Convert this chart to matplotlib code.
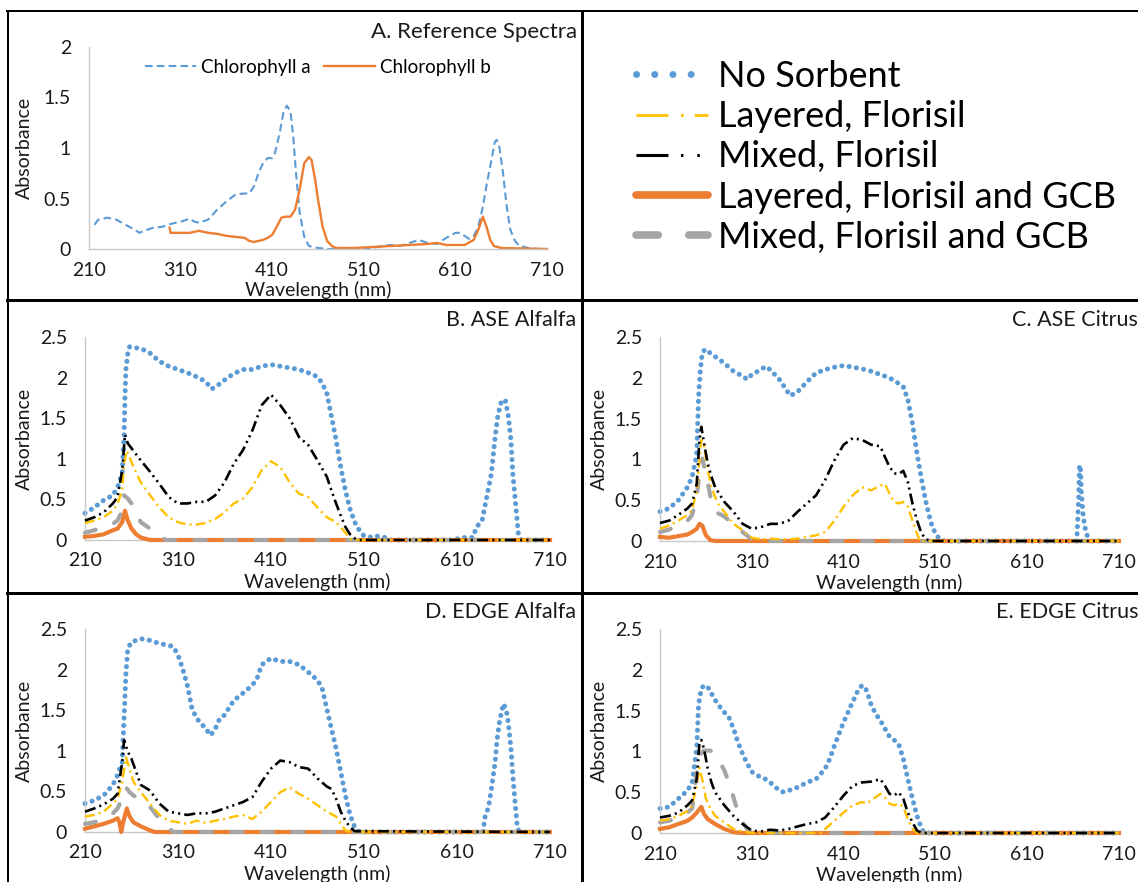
import matplotlib
matplotlib.use("Agg")
import matplotlib.pyplot as plt
from matplotlib.lines import Line2D

plt.rcParams['font.family'] = ['Lato', 'DejaVu Sans']
plt.rcParams['lines.scale_dashes'] = False

# ---------------- data ----------------
# A. reference spectra
chl_a_wl = [216, 220, 230, 240, 250, 260, 265, 270, 280, 290, 300, 310, 320, 325, 330,
            340, 350, 360, 370, 380, 385, 390, 395, 400, 405, 410, 413, 418, 422, 426,
            430, 433, 436, 440, 445, 450, 460, 470, 500, 520, 530, 540, 550, 560, 570,
            580, 590, 600, 610, 615, 620, 625, 630, 635, 640, 645, 650, 653, 655, 658,
            662, 666, 670, 675, 680, 690, 700, 710]
chl_a = [0.24, 0.29, 0.31, 0.29, 0.24, 0.19, 0.16, 0.18, 0.21, 0.22, 0.25, 0.27, 0.30, 0.27, 0.26,
         0.29, 0.39, 0.47, 0.54, 0.55, 0.55, 0.62, 0.75, 0.85, 0.90, 0.90, 0.95, 1.14, 1.34, 1.42,
         1.36, 1.11, 0.75, 0.36, 0.12, 0.03, 0.01, 0, 0, 0.01, 0.03, 0.04, 0.03, 0.06, 0.09,
         0.06, 0.05, 0.11, 0.16, 0.16, 0.13, 0.10, 0.13, 0.22, 0.42, 0.68, 0.91, 1.06, 1.08, 1.01,
         0.75, 0.42, 0.19, 0.08, 0.03, 0.01, 0, 0]
chl_b_wl = [298, 299, 310, 320, 330, 340, 350, 360, 370, 380, 385, 390, 400, 405, 410,
            415, 420, 425, 430, 435, 440, 445, 450, 453, 457, 460, 465, 470, 475, 480,
            500, 520, 540, 560, 580, 590, 600, 620, 630, 635, 640, 644, 648, 652, 660, 710]
chl_b = [0.21, 0.16, 0.16, 0.16, 0.18, 0.16, 0.15, 0.13, 0.12, 0.11, 0.08, 0.07, 0.09, 0.11, 0.14,
         0.22, 0.31, 0.32, 0.32, 0.39, 0.59, 0.85, 0.91, 0.88, 0.68, 0.49, 0.22, 0.08, 0.03, 0.01,
         0.01, 0.02, 0.03, 0.04, 0.05, 0.06, 0.04, 0.04, 0.09, 0.19, 0.32, 0.22, 0.09, 0.03, 0.01, 0]

# B. ASE Alfalfa
b_none_wl = [210, 220, 230, 240, 245, 250, 252, 253, 254, 256, 258, 262, 270, 280, 290, 300,
             310, 320, 330, 340, 346, 350, 360, 370, 380, 390, 400, 410, 420, 430, 440, 450,
             460, 465, 470, 475, 480, 485, 490, 495, 500, 505, 510, 520, 525, 530, 540, 608,
             613, 620, 627, 631, 637, 642, 647, 651, 654, 658, 662, 665, 668, 670, 673, 676,
             679, 710]
b_none = [0.33, 0.40, 0.49, 0.55, 0.65, 0.82, 1.27, 1.77, 2.10, 2.30, 2.38, 2.37, 2.36, 2.30, 2.20, 2.14,
          2.10, 2.06, 2.01, 1.95, 1.86, 1.88, 1.97, 2.05, 2.10, 2.10, 2.14, 2.16, 2.14, 2.12, 2.10, 2.06,
          2.01, 1.93, 1.81, 1.52, 1.23, 0.90, 0.61, 0.38, 0.22, 0.12, 0.05, 0.03, 0.05, 0.04, 0, 0,
          0.03, 0.03, 0.03, 0.16, 0.24, 0.53, 0.82, 1.27, 1.54, 1.72, 1.72, 1.54, 1.23, 0.82, 0.45, 0.07,
          0, 0]
b_lay_wl = [210, 220, 230, 240, 245, 250, 252, 255, 258, 262, 270, 280, 290, 300, 310, 320, 330, 340,
            350, 360, 370, 380, 390, 400, 410, 420, 430, 440, 450, 460, 470, 480, 490, 495, 500, 710]
b_lay = [0.21, 0.24, 0.28, 0.36, 0.45, 0.61, 0.94, 1.10, 1.02, 0.90, 0.71, 0.55, 0.40, 0.28, 0.22, 0.19, 0.19, 0.21,
         0.26, 0.34, 0.45, 0.51, 0.65, 0.86, 0.97, 0.90, 0.71, 0.57, 0.53, 0.40, 0.28, 0.22, 0.09, 0.01, 0, 0]
b_mix_wl = [210, 220, 230, 240, 245, 250, 253, 256, 260, 270, 280, 290, 300, 310, 320, 330, 340, 350, 360,
            370, 380, 390, 400, 410, 420, 430, 440, 450, 460, 470, 475, 480, 485, 490, 495, 500, 505, 710]
b_mix = [0.24, 0.28, 0.34, 0.45, 0.53, 0.86, 1.30, 1.19, 1.13, 0.98, 0.84, 0.69, 0.53, 0.45, 0.45, 0.47, 0.47, 0.55, 0.71,
         0.94, 1.11, 1.35, 1.66, 1.79, 1.66, 1.50, 1.27, 1.17, 0.98, 0.78, 0.61, 0.45, 0.30, 0.16, 0.07, 0.02, 0, 0]
b_lgcb_wl = [210, 220, 230, 240, 245, 250, 253, 256, 260, 265, 270, 280, 710]
b_lgcb = [0.04, 0.05, 0.07, 0.12, 0.14, 0.22, 0.36, 0.24, 0.14, 0.07, 0.03, 0, 0]
b_mgcb_wl = [210, 220, 230, 240, 245, 250, 252, 256, 260, 265, 270, 280, 290, 297, 710]
b_mgcb = [0.09, 0.12, 0.16, 0.20, 0.24, 0.36, 0.55, 0.51, 0.45, 0.32, 0.22, 0.14, 0.05, 0, 0]

# C. ASE Citrus
c_none_wl = [210, 220, 230, 240, 245, 250, 252, 254, 256, 259, 270, 280, 290, 300, 305,
             310, 320, 325, 330, 340, 352, 360, 370, 380, 390, 400, 410, 420, 430, 440,
             450, 460, 470, 475, 480, 485, 490, 495, 500, 505, 510, 515, 520, 664, 666,
             667, 668, 669, 671, 674, 677, 680, 710]
c_none = [0.36, 0.40, 0.50, 0.66, 0.79, 1.05, 1.77, 2.10, 2.30, 2.35, 2.26, 2.18, 2.08, 2.02, 1.98,
          2.04, 2.10, 2.14, 2.10, 1.98, 1.78, 1.83, 1.95, 2.06, 2.10, 2.13, 2.15, 2.13, 2.11, 2.08,
          2.04, 2.00, 1.93, 1.89, 1.73, 1.44, 1.07, 0.75, 0.46, 0.23, 0.09, 0.02, 0, 0, 0.5,
          0.93, 0.9, 0.6, 0.3, 0.1, 0.03, 0, 0]
c_lay_wl = [210, 220, 230, 240, 245, 250, 255, 258, 262, 266, 270, 275, 280, 290, 300, 310, 320, 330, 340, 350,
            360, 370, 380, 390, 400, 410, 420, 430, 440, 450, 455, 460, 465, 470, 475, 480, 485, 490, 493, 710]
c_lay = [0.15, 0.19, 0.25, 0.32, 0.38, 0.62, 1.24, 1.16, 0.87, 0.66, 0.54, 0.42, 0.36, 0.21, 0.13, 0.04, 0.02, 0.03, 0.02, 0.02,
         0.03, 0.05, 0.07, 0.11, 0.25, 0.42, 0.56, 0.66, 0.62, 0.68, 0.70, 0.58, 0.48, 0.46, 0.48, 0.42, 0.25, 0.09, 0, 0]
c_mix_wl = [210, 220, 230, 240, 245, 250, 253, 255, 258, 262, 266, 270, 280, 290, 300, 310, 320, 330, 340, 350, 360,
            370, 380, 390, 400, 410, 420, 430, 440, 450, 455, 460, 465, 470, 475, 480, 485, 490, 495, 500, 505, 710]
c_mix = [0.22, 0.25, 0.32, 0.40, 0.46, 0.70, 1.24, 1.40, 1.20, 0.95, 0.79, 0.66, 0.48, 0.36, 0.21, 0.15, 0.17, 0.21, 0.21, 0.25, 0.36,
         0.46, 0.56, 0.75, 0.99, 1.18, 1.26, 1.24, 1.18, 1.16, 1.03, 0.91, 0.83, 0.82, 0.86, 0.72, 0.46, 0.25, 0.09, 0.02, 0, 0]
c_lgcb_wl = [210, 220, 230, 240, 245, 250, 253, 256, 260, 265, 270, 710]
c_lgcb = [0.05, 0.04, 0.06, 0.08, 0.11, 0.15, 0.21, 0.19, 0.07, 0.01, 0, 0]
c_mgcb_wl = [210, 220, 230, 240, 245, 250, 253, 256, 260, 265, 270, 280, 290, 300, 310, 320, 445, 451, 457, 710]
c_mgcb = [0.11, 0.14, 0.19, 0.25, 0.32, 0.54, 0.83, 1.01, 0.83, 0.54, 0.36, 0.30, 0.21, 0.11, 0.02, 0, 0, 0.03, 0, 0]

# D. EDGE Alfalfa
d_none_wl = [210, 220, 230, 240, 245, 250, 252, 254, 256, 260, 270, 280, 290, 300, 305,
             310, 315, 320, 325, 330, 340, 345, 350, 355, 360, 370, 380, 390, 395, 400,
             410, 420, 430, 440, 450, 460, 465, 470, 475, 480, 485, 490, 495, 500, 505,
             638, 640, 644, 647, 651, 653, 656, 660, 663, 665, 668, 670, 673, 675, 678, 710]
d_none = [0.35, 0.39, 0.45, 0.58, 0.70, 0.86, 1.40, 1.95, 2.26, 2.34, 2.38, 2.36, 2.32, 2.30, 2.28,
          2.18, 2.01, 1.81, 1.52, 1.40, 1.27, 1.19, 1.27, 1.40, 1.44, 1.62, 1.71, 1.81, 1.89, 2.06,
          2.14, 2.10, 2.10, 2.06, 1.97, 1.87, 1.77, 1.52, 1.27, 1.03, 0.74, 0.45, 0.21, 0.06, 0,
          0, 0.18, 0.31, 0.53, 0.86, 1.13, 1.38, 1.58, 1.50, 1.36, 1.03, 0.70, 0.29, 0.04, 0, 0]
d_lay_wl = [210, 220, 230, 240, 245, 250, 254, 258, 262, 270, 280, 290, 300, 310, 320, 330, 340, 350,
            360, 370, 380, 390, 400, 410, 420, 430, 440, 450, 460, 470, 480, 485, 490, 495, 710]
d_lay = [0.19, 0.21, 0.25, 0.35, 0.41, 0.62, 0.92, 0.78, 0.62, 0.49, 0.35, 0.21, 0.14, 0.12, 0.10, 0.14, 0.11, 0.14,
         0.16, 0.19, 0.21, 0.16, 0.25, 0.37, 0.49, 0.55, 0.47, 0.41, 0.33, 0.25, 0.19, 0.10, 0.02, 0, 0]
d_mix_wl = [210, 220, 230, 240, 245, 250, 252, 256, 260, 265, 270, 280, 290, 300, 310, 320, 330, 340, 350,
            360, 370, 380, 390, 400, 410, 420, 430, 440, 450, 460, 470, 475, 480, 485, 490, 495, 500, 710]
d_mix = [0.25, 0.29, 0.34, 0.41, 0.47, 0.86, 1.13, 0.99, 0.90, 0.74, 0.58, 0.51, 0.35, 0.25, 0.23, 0.21, 0.23, 0.23, 0.25,
         0.29, 0.33, 0.37, 0.43, 0.62, 0.78, 0.88, 0.86, 0.80, 0.78, 0.66, 0.56, 0.53, 0.41, 0.25, 0.14, 0.06, 0.01, 0]
d_lgcb_wl = [210, 220, 230, 240, 245, 247, 249, 251, 255, 258, 262, 270, 280, 285, 710]
d_lgcb = [0.04, 0.07, 0.10, 0.14, 0.17, 0.12, 0.0, 0.12, 0.29, 0.19, 0.12, 0.07, 0.02, 0, 0]
d_mgcb_wl = [210, 220, 230, 240, 245, 250, 254, 258, 262, 270, 280, 290, 295, 300, 305, 710]
d_mgcb = [0.10, 0.12, 0.16, 0.23, 0.29, 0.41, 0.55, 0.49, 0.45, 0.39, 0.31, 0.16, 0.10, 0.05, 0, 0]

# E. EDGE Citrus
e_none_wl = [210, 220, 230, 240, 245, 250, 252, 255, 258, 262, 266, 270, 275, 280, 285,
             290, 295, 300, 305, 310, 320, 325, 330, 340, 345, 350, 360, 370, 380, 390,
             395, 400, 410, 420, 425, 430, 435, 440, 445, 450, 455, 460, 465, 470, 475,
             480, 485, 490, 495, 498, 710]
e_none = [0.30, 0.32, 0.42, 0.52, 0.62, 1.03, 1.57, 1.77, 1.81, 1.79, 1.71, 1.63, 1.55, 1.48, 1.42,
          1.28, 1.11, 0.97, 0.85, 0.75, 0.68, 0.66, 0.62, 0.52, 0.50, 0.52, 0.56, 0.62, 0.66, 0.79,
          0.91, 1.07, 1.36, 1.61, 1.73, 1.81, 1.75, 1.57, 1.46, 1.38, 1.28, 1.18, 1.14, 1.09, 0.91,
          0.66, 0.42, 0.21, 0.05, 0, 0]
e_lay_wl = [210, 220, 230, 240, 245, 250, 253, 256, 260, 265, 270, 280, 290, 300, 310, 385, 390, 400,
            410, 420, 425, 430, 435, 440, 445, 450, 455, 460, 465, 470, 475, 480, 485, 490, 710]
e_lay = [0.15, 0.17, 0.21, 0.27, 0.34, 0.58, 0.80, 0.66, 0.42, 0.30, 0.21, 0.13, 0.05, 0.02, 0, 0, 0.05, 0.15,
         0.25, 0.34, 0.36, 0.38, 0.36, 0.40, 0.44, 0.48, 0.44, 0.36, 0.34, 0.36, 0.32, 0.17, 0.05, 0, 0]
e_mix_wl = [210, 220, 230, 240, 245, 250, 253, 255, 258, 262, 266, 270, 280, 290, 300, 310, 320, 330, 340, 350,
            360, 370, 380, 390, 400, 410, 420, 430, 440, 450, 455, 460, 465, 470, 475, 480, 485, 490, 495, 710]
e_mix = [0.19, 0.21, 0.25, 0.34, 0.40, 0.66, 1.11, 1.14, 1.03, 0.79, 0.62, 0.50, 0.34, 0.21, 0.11, 0.03, 0.02, 0.04, 0.03, 0.05,
         0.08, 0.11, 0.13, 0.19, 0.32, 0.46, 0.58, 0.62, 0.63, 0.66, 0.58, 0.48, 0.46, 0.50, 0.42, 0.25, 0.13, 0.03, 0, 0]
e_lgcb_wl = [210, 220, 230, 240, 245, 250, 255, 258, 262, 270, 280, 290, 300, 710]
e_lgcb = [0.05, 0.07, 0.11, 0.15, 0.19, 0.25, 0.32, 0.23, 0.17, 0.11, 0.05, 0.01, 0, 0]
e_mgcb_wl = [210, 220, 230, 240, 245, 250, 253, 258, 265, 270, 275, 280, 285, 290, 295, 300, 305, 310, 710]
e_mgcb = [0.13, 0.15, 0.19, 0.25, 0.30, 0.75, 0.95, 1.01, 1.01, 0.95, 0.87, 0.77, 0.62, 0.44, 0.25, 0.13, 0.05, 0, 0]

series_names = ['No Sorbent', 'Layered, Florisil', 'Mixed, Florisil',
                'Layered, Florisil and GCB', 'Mixed, Florisil and GCB']
x_ticks = [210, 310, 410, 510, 610, 710]
y_ticks_a = [0, 0.5, 1, 1.5, 2]
y_ticks = [0, 0.5, 1, 1.5, 2, 2.5]

# ---------------- styles ----------------
blue = '#5B9BD5'
orange = '#ED7D31'
gray = '#A5A5A5'
yellow = '#FFC000'
txt = '#1a1a1a'
styles = {
    'No Sorbent': dict(color=blue, lw=3.6, ls=(0, (0.1, 5.2)), dash_capstyle='round', zorder=2),
    'Layered, Florisil': dict(color=yellow, lw=1.7, ls=(0, (7, 3, 1.5, 3)), zorder=5),
    'Mixed, Florisil': dict(color='black', lw=1.9, ls=(0, (8, 3, 1.5, 3, 1.5, 3)), zorder=6),
    'Layered, Florisil and GCB': dict(color=orange, lw=3.0, ls='-', zorder=3),
    'Mixed, Florisil and GCB': dict(color=gray, lw=3.0, ls=(0, (8, 14)), dash_capstyle='round', zorder=4),
}

W, H = 1138, 882
fig = plt.figure(figsize=(W / 100, H / 100), dpi=100)


def px_rect(x0, y0, x1, y1):
    return [x0 / W, 1 - y1 / H, (x1 - x0) / W, (y1 - y0) / H]


def style_axes(ax, ymax, yticks, ylab_x):
    ax.set_xlim(210, 710)
    ax.set_ylim(0, ymax)
    ax.set_xticks(x_ticks)
    ax.set_xticklabels([str(t) for t in x_ticks])
    ax.set_yticks(yticks)
    ax.set_yticklabels(['%g' % t for t in yticks])
    for s in ['top', 'right']:
        ax.spines[s].set_visible(False)
    for s in ['left', 'bottom']:
        ax.spines[s].set_color('#C8C8C8')
        ax.spines[s].set_linewidth(1.0)
    ax.tick_params(axis='both', length=0, labelsize=14, colors=txt)
    ax.tick_params(axis='y', pad=13)
    ax.tick_params(axis='x', pad=9)
    ax.set_xlabel('Wavelength (nm)', fontsize=14, va='center', color=txt)
    ax.xaxis.set_label_coords(0.5, -0.205)
    ax.set_ylabel('Absorbance', fontsize=14, va='center', ha='center', color=txt)
    ax.yaxis.set_label_coords(ylab_x, 0.5)
    ax.patch.set_alpha(0)


def draw_samples(ax, data):
    for name, (wl, ab) in zip(series_names, data):
        st = styles[name]
        ax.plot(wl, ab, color=st['color'], lw=st['lw'], ls=st['ls'],
                dash_capstyle=st.get('dash_capstyle', 'butt'),
                zorder=st['zorder'], clip_on=False)


# ---------------- panel A ----------------
ax_a = fig.add_axes(px_rect(89, 47, 547, 249))
ax_a.plot(chl_a_wl, chl_a, color=blue, lw=1.5, ls=(0, (5.5, 3)), label='Chlorophyll a', clip_on=False)
ax_a.plot(chl_b_wl, chl_b, color=orange, lw=1.7, label='Chlorophyll b', clip_on=False)
style_axes(ax_a, 2, y_ticks_a, -0.142)
ax_a.legend(loc='center', bbox_to_anchor=(0.5, 0.90), ncol=2, frameon=False, fontsize=13.5,
            handlelength=2.7, handletextpad=0.3, columnspacing=0.7)

# ---------------- panels B-E ----------------
panels = [
    ((85, 337, 550, 540), [(b_none_wl, b_none), (b_lay_wl, b_lay), (b_mix_wl, b_mix),
                           (b_lgcb_wl, b_lgcb), (b_mgcb_wl, b_mgcb)]),
    ((660, 337, 1119, 541), [(c_none_wl, c_none), (c_lay_wl, c_lay), (c_mix_wl, c_mix),
                             (c_lgcb_wl, c_lgcb), (c_mgcb_wl, c_mgcb)]),
    ((85, 629, 550, 832), [(d_none_wl, d_none), (d_lay_wl, d_lay), (d_mix_wl, d_mix),
                           (d_lgcb_wl, d_lgcb), (d_mgcb_wl, d_mgcb)]),
    ((660, 629, 1119, 833), [(e_none_wl, e_none), (e_lay_wl, e_lay), (e_mix_wl, e_mix),
                             (e_lgcb_wl, e_lgcb), (e_mgcb_wl, e_mgcb)]),
]
for rect, data in panels:
    ax = fig.add_axes(px_rect(*rect))
    draw_samples(ax, data)
    style_axes(ax, 2.5, y_ticks, (24 - 85) / 465)

# titles
fig.text(577 / W, 1 - 32 / H, 'A. Reference Spectra', ha='right', va='center', fontsize=16, color=txt)
fig.text(576 / W, 1 - 320 / H, 'B. ASE Alfalfa', ha='right', va='center', fontsize=15.5, color=txt)
fig.text(1012 / W, 1 - 320 / H, 'C. ASE Citrus', ha='left', va='center', fontsize=15.5, color=txt)
fig.text(576 / W, 1 - 612 / H, 'D. EDGE Alfalfa', ha='right', va='center', fontsize=15.5, color=txt)
fig.text(996 / W, 1 - 612 / H, 'E. EDGE Citrus', ha='left', va='center', fontsize=15.5, color=txt)

# ---------------- shared legend ----------------
ax_leg = fig.add_axes(px_rect(583, 13, 1138, 298))
ax_leg.axis('off')
handles = [
    Line2D([], [], color=blue, lw=5, ls=(0, (0.1, 13)), dash_capstyle='round'),
    Line2D([], [], color=yellow, lw=2, ls=(0, (23, 9, 2, 8))),
    Line2D([], [], color='black', lw=2.2, ls=(0, (23, 9, 1.8, 10, 1.8, 9))),
    Line2D([], [], color=orange, lw=5.5, ls='-', solid_capstyle='round'),
    Line2D([], [], color=gray, lw=5.5, ls=(0, (16, 22)), dash_capstyle='round'),
]
ax_leg.legend(handles, series_names, loc='upper left', bbox_to_anchor=((636 - 583) / 555, (298 - 60) / 285),
              frameon=False, fontsize=26, handlelength=2.0, handletextpad=0.28,
              labelspacing=0.2, borderpad=0, borderaxespad=0)

# ---------------- panel borders ----------------
for (x0, y0, x1, y1, w) in [(7, 11, 1138, 11, 2), (7, 300, 1138, 300, 3), (7, 593, 1138, 593, 3),
                            (7.5, 11, 7.5, 882, 2), (582, 11, 582, 882, 3)]:
    fig.add_artist(Line2D([x0 / W, x1 / W], [1 - y0 / H, 1 - y1 / H], transform=fig.transFigure,
                          color='black', lw=w * 0.72))

fig.savefig('out.png', dpi=100)
